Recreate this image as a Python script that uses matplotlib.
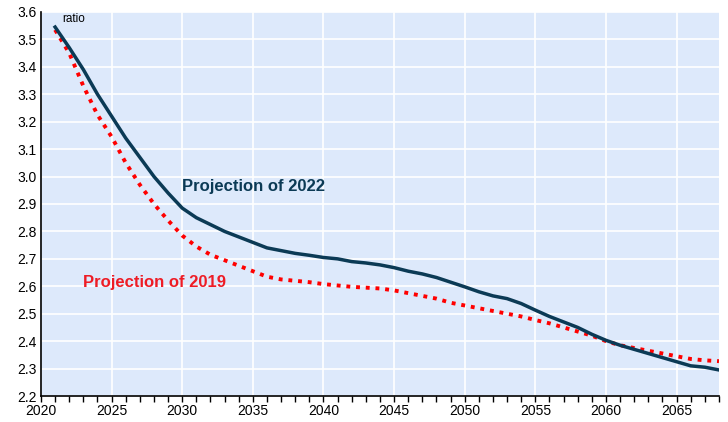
import numpy as np
import matplotlib.pyplot as plt
from matplotlib.ticker import MultipleLocator

plt.rcParams['font.family'] = ['Liberation Sans', 'DejaVu Sans']

# Data
years = np.arange(2021, 2069)
proj_2022 = [3.545, 3.47, 3.39, 3.30, 3.22, 3.14, 3.07, 3.00, 2.94, 2.885,
             2.85, 2.825, 2.80, 2.78, 2.76, 2.74, 2.73, 2.72, 2.713, 2.705,
             2.70, 2.69, 2.685, 2.678, 2.668, 2.655, 2.645, 2.632, 2.615, 2.598,
             2.58, 2.565, 2.555, 2.537, 2.513, 2.49, 2.47, 2.45, 2.425, 2.403,
             2.385, 2.37, 2.355, 2.34, 2.325, 2.31, 2.305, 2.295]
proj_2019 = [3.535, 3.45, 3.33, 3.225, 3.145, 3.05, 2.97, 2.90, 2.84, 2.785,
             2.745, 2.715, 2.695, 2.675, 2.655, 2.635, 2.625, 2.62, 2.615, 2.608,
             2.603, 2.598, 2.595, 2.592, 2.585, 2.575, 2.565, 2.555, 2.54, 2.53,
             2.52, 2.51, 2.50, 2.49, 2.477, 2.465, 2.45, 2.435, 2.42, 2.400,
             2.385, 2.375, 2.365, 2.355, 2.345, 2.335, 2.33, 2.327]

navy = '#0b3a55'
red = '#ff0000'

fig = plt.figure(figsize=(7.28, 4.22), dpi=100)
ax = fig.add_axes([0.0563, 0.0616, 0.9313, 0.91])
ax.set_facecolor('#dde9fb')

ax.plot(years, proj_2022, color=navy, lw=2.5, zorder=3)
ax.plot(years, proj_2019, color=red, lw=2.8, linestyle=(0, (1, 1.5)), zorder=2)

ax.set_xlim(2020, 2068)
ax.set_ylim(2.2, 3.6)
ax.xaxis.set_major_locator(MultipleLocator(5))
ax.xaxis.set_minor_locator(MultipleLocator(1))
ax.yaxis.set_major_locator(MultipleLocator(0.1))
ax.yaxis.set_major_formatter(plt.FormatStrFormatter('%.1f'))

ax.grid(True, color='white', lw=1.2)
ax.set_axisbelow(True)
for s in ['top', 'right']:
    ax.spines[s].set_visible(False)
for s in ['left', 'bottom']:
    ax.spines[s].set_color('black')
    ax.spines[s].set_linewidth(1.2)

ax.tick_params(axis='x', which='both', direction='out', length=4, width=1,
               labelsize=10, pad=2)
ax.tick_params(axis='y', length=0, labelsize=10, pad=3)

ax.text(2021.5, 3.575, 'ratio', fontsize=8.5, va='center', ha='left')
ax.text(2030.0, 2.962, 'Projection of 2022', color=navy, fontsize=12,
        fontweight='bold', va='center', ha='left')
ax.text(2023.0, 2.612, 'Projection of 2019', color='#ee1c25', fontsize=12,
        fontweight='bold', va='center', ha='left')

fig.savefig('out.png', dpi=100)
